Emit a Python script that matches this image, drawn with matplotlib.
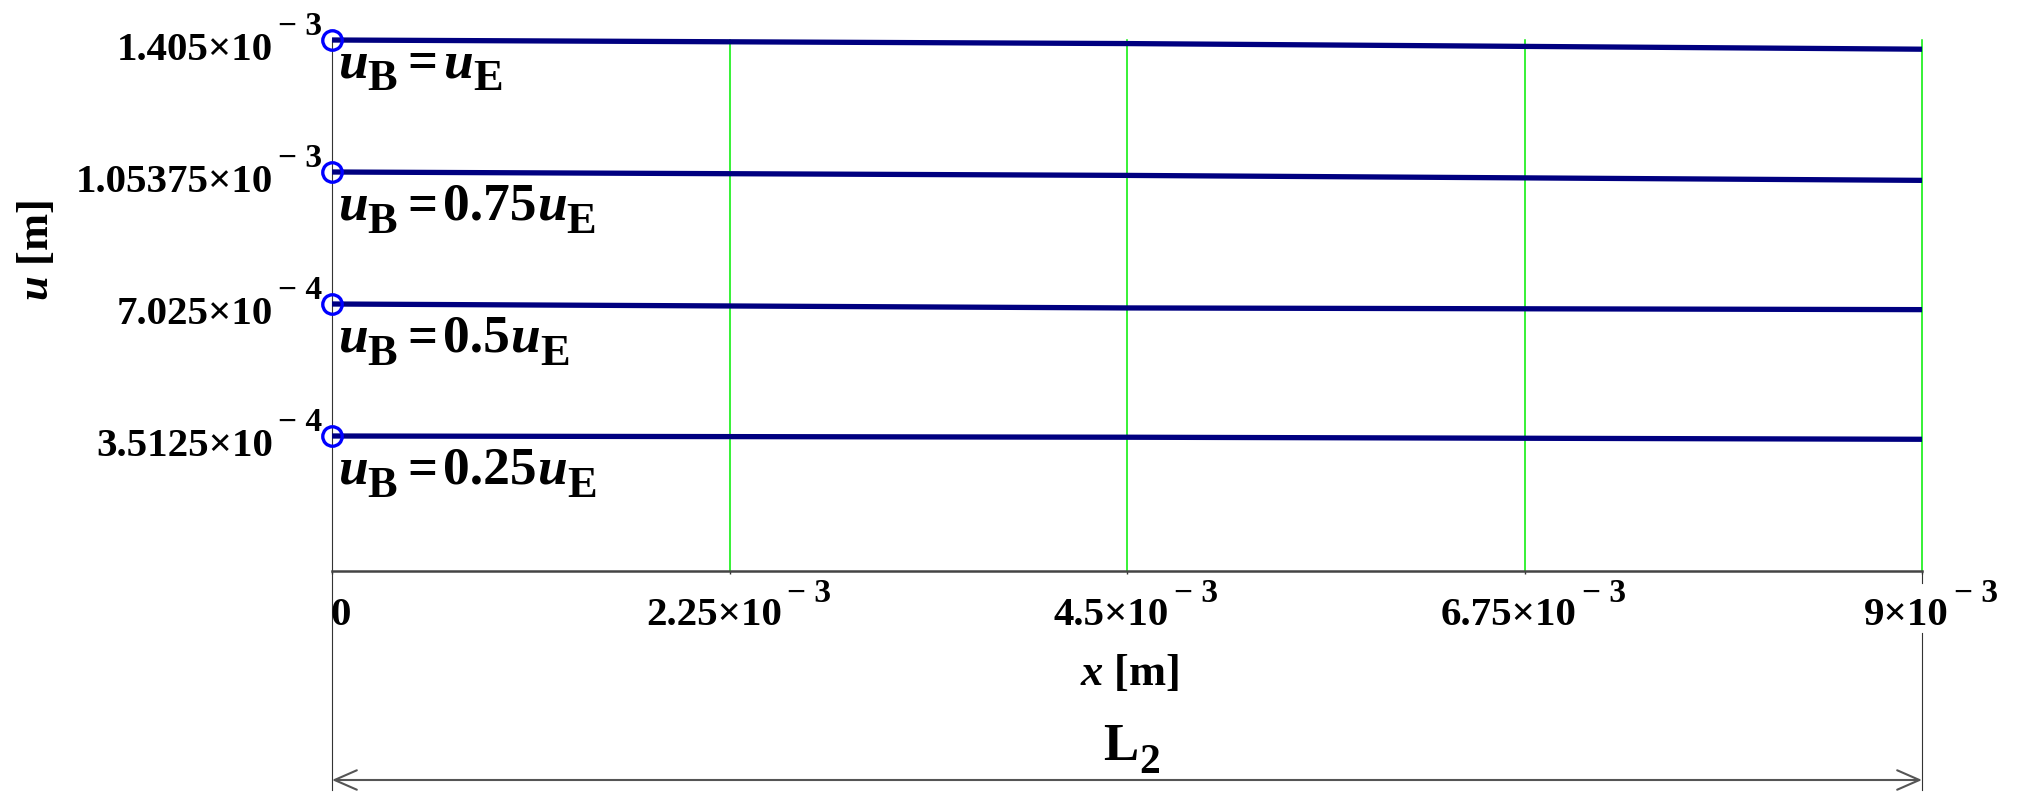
import matplotlib
matplotlib.use("Agg")
import matplotlib.pyplot as plt
import matplotlib.transforms as mtransforms
from matplotlib.patches import FancyArrowPatch

# ---------------- data ----------------
x_pos = [0.0, 4.5e-3, 9.0e-3]
u_full = [1.405e-3, 1.3955e-3, 1.3805e-3]      # u_B = u_E
u_075 = [1.05375e-3, 1.0447e-3, 1.0315e-3]     # u_B = 0.75 u_E
u_050 = [7.025e-4, 6.920e-4, 6.875e-4]         # u_B = 0.5 u_E
u_025 = [3.5125e-4, 3.480e-4, 3.425e-4]        # u_B = 0.25 u_E
series = [u_full, u_075, u_050, u_025]
series_coef = ["", "0.75", "0.5", "0.25"]      # u_B = <coef> u_E
label_drop_px = [37, 48, 48, 48]

x_ticks = [0.0, 2.25e-3, 4.5e-3, 6.75e-3, 9.0e-3]
x_tick_mant = ["0", "2.25\u00d710", "4.5\u00d710", "6.75\u00d710", "9\u00d710"]
x_tick_exp = ["", "\u2212 3", "\u2212 3", "\u2212 3", "\u2212 3"]
y_ticks = [3.5125e-4, 7.025e-4, 1.05375e-3, 1.405e-3]
y_tick_mant = ["3.5125\u00d710", "7.025\u00d710", "1.05375\u00d710", "1.405\u00d710"]
y_tick_exp = ["\u2212 4", "\u2212 4", "\u2212 3", "\u2212 3"]

x_label = r"$\mathit{x}$ [m]"
y_label = r"$\mathit{u}$ [m]"
span_main, span_sub = "L", "2"

# ---------------- style ----------------
plt.rcParams.update({
    "font.family": ["Liberation Serif", "DejaVu Serif"],
    "font.weight": "bold",
    "mathtext.fontset": "custom",
    "mathtext.rm": "Liberation Serif:bold",
    "mathtext.bf": "Liberation Serif:bold",
    "mathtext.it": "Liberation Serif:italic:bold",
    "mathtext.default": "rm",
})

W, H = 2021, 806
fig = plt.figure(figsize=(W / 100, H / 100), dpi=100)
ax_left, ax_right, ax_top, ax_bot = 332, 1922, 40, 571
ax = fig.add_axes([ax_left / W, (H - ax_bot) / H,
                   (ax_right - ax_left) / W, (ax_bot - ax_top) / H])
ax.set_xlim(x_ticks[0], x_ticks[-1])
ax.set_ylim(-8e-6, y_ticks[-1])
renderer = fig.canvas.get_renderer()


def piece_width(s, size, style):
    t = fig.text(0, 0, s, fontsize=size, style=style)
    w = t.get_window_extent(renderer).width
    t.remove()
    return w


def place(base_tr, x, y, pieces, dx, dy, align="left", zorder=5):
    """pieces: (text, fontsize, style, dy_px, gap_before_px)"""
    widths = [piece_width(p[0], p[1], p[2]) if p[0] else 0 for p in pieces]
    total = sum(widths) + sum(p[4] for p, w in zip(pieces, widths) if w)
    frac = {"left": 0.0, "center": 0.5, "right": 1.0}[align]
    cur = dx - frac * total
    for p, w in zip(pieces, widths):
        if not w:
            continue
        cur += p[4]
        tr = mtransforms.offset_copy(base_tr, fig=fig, x=cur, y=dy + p[3],
                                     units="dots")
        ax.text(x, y, p[0], transform=tr, ha="left", va="baseline",
                fontsize=p[1], style=p[2], clip_on=False, zorder=zorder)
        cur += w


for s in ["top", "right"]:
    ax.spines[s].set_visible(False)
ax.spines["left"].set_color("#333333")
ax.spines["left"].set_linewidth(0.8)
ax.spines["bottom"].set_color("#444444")
ax.spines["bottom"].set_linewidth(1.8)

ax.set_xticks(x_ticks)
ax.set_xticklabels([])
ax.set_yticks(y_ticks)
ax.set_yticklabels([])
ax.tick_params(axis="x", direction="out", length=2.5, width=1.0, color="#333333")
ax.tick_params(axis="y", length=0)

# vertical green grid lines
for xv in x_ticks[1:]:
    ax.axvline(xv, color="#00ee00", lw=1.1, zorder=1, clip_on=False)

# curves + start markers
for s in series:
    ax.plot(x_pos, s, color="#000080", lw=3.8, solid_capstyle="butt",
            zorder=3, clip_on=False)
    ax.plot([x_pos[0]], [s[0]], "o", mfc="none", mec="#0000ff", ms=14,
            mew=2.4, zorder=4, clip_on=False)

# series annotations  u_B = coef u_E
for s, coef, dp in zip(series, series_coef, label_drop_px):
    pieces = [("u", 38.5, "italic", 0, 0),
              ("B", 32, "normal", -13, 0),
              ("=", 38, "normal", 0, 10),
              (coef, 38.5, "normal", 0, 6),
              ("u", 38.5, "italic", 0, 0 if coef else 6),
              ("E", 32, "normal", -13, 0)]
    place(ax.transData, x_pos[0], s[0], pieces, 6, -dp, "left")

# tick labels
xa = ax.get_xaxis_transform()
ya = ax.get_yaxis_transform()
for xv, m, e in zip(x_ticks, x_tick_mant, x_tick_exp):
    pieces = [(m, 29.5, "normal", 0, 0), (e, 24, "normal", 23, 5)]
    place(xa, xv, 0, pieces, 9, -54, "center")
for yv, m, e in zip(y_ticks, y_tick_mant, y_tick_exp):
    pieces = [(m, 29.5, "normal", 0, 0), (e, 24, "normal", 25, 5)]
    place(ya, 0, yv, pieces, -10, -20, "right")

# axis labels
xmid = (x_ticks[0] + x_ticks[-1]) / 2
xtr = mtransforms.offset_copy(xa, fig=fig, x=3, y=-114, units="dots")
ax.text(xmid, 0, x_label, transform=xtr, ha="center", va="baseline", fontsize=32)
fig.text(36 / W, 1 - 250 / H, y_label, rotation=90, ha="center", va="center",
         fontsize=32)

# dimension line for L2
px = 1.0 / (ax_bot - ax_top)
ax.plot([x_ticks[0]] * 2, [0, -219 * px], transform=xa, color="#333333",
        lw=0.8, clip_on=False)
ax.plot([x_ticks[-1]] * 2, [-62 * px, -219 * px], transform=xa,
        color="#333333", lw=0.8, clip_on=False)
ax.plot([x_ticks[-1]] * 2, [0, -12 * px], transform=xa, color="#333333",
        lw=0.8, clip_on=False)
arrow = FancyArrowPatch((x_ticks[0], -209 * px), (x_ticks[-1], -209 * px),
                        transform=xa, arrowstyle="<->,head_length=16,head_width=7",
                        mutation_scale=1, lw=1.5, color="#555555",
                        shrinkA=0, shrinkB=0, clip_on=False)
ax.add_patch(arrow)
place(xa, xmid, 0, [(span_main, 38, "normal", 0, 0), (span_sub, 30, "normal", -13, 1)],
      5, -189, "center")

fig.savefig("out.png", dpi=100)
